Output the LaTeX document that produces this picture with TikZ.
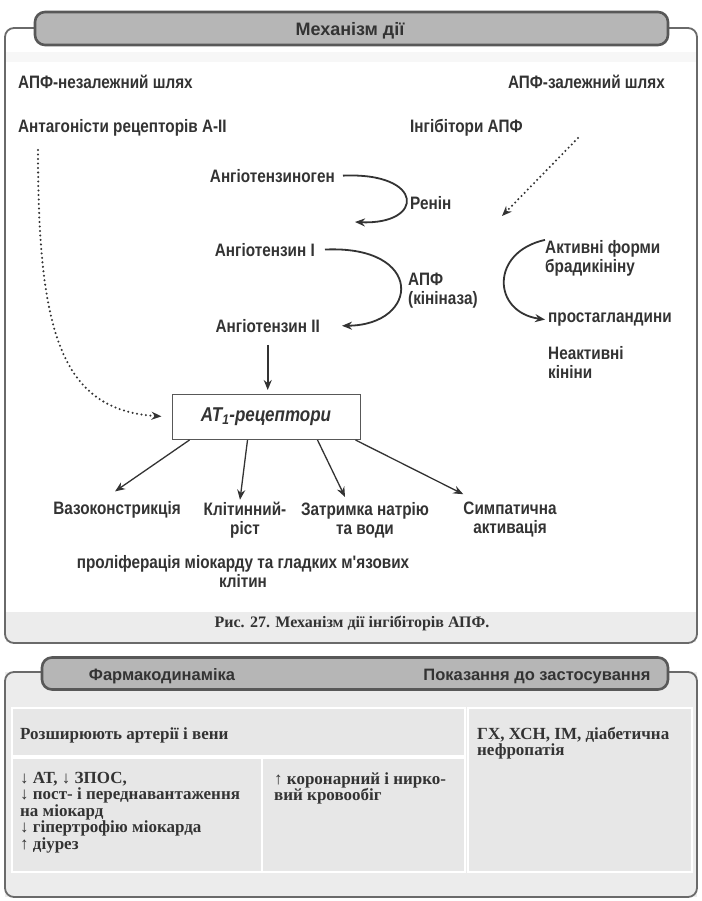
\documentclass[tikz,border=0pt]{standalone}
\usepackage{fontspec}
\setmainfont{Liberation Serif}
\newfontfamily\cond[FakeStretch=0.85]{Liberation Sans}
\newfontfamily\hdr{Liberation Sans}
\usetikzlibrary{arrows.meta,calc}
\definecolor{ink}{HTML}{333333}
\definecolor{framec}{HTML}{6a6a6a}
\definecolor{tabfill}{HTML}{b6b6b6}
\definecolor{tabedge}{HTML}{585858}
\definecolor{panelbg}{HTML}{ececec}
\definecolor{cellbg}{HTML}{e7e7e7}
\tikzset{
  lbl/.style={font=\cond\bfseries\fontsize{18}{19}\selectfont, text=ink, inner sep=0pt, anchor=west, align=left},
  lblc/.style={lbl, anchor=center, align=center},
  tabbox/.style={draw=tabedge, line width=2.6pt, fill=tabfill, rounded corners=10pt, inner sep=0pt},
  tabtxt/.style={font=\hdr\bfseries\fontsize{16.5}{18}\selectfont, text=ink, inner sep=0pt, anchor=base},
  frameline/.style={draw=framec, line width=1.8pt, rounded corners=9pt},
  flow/.style={draw=ink, line width=1.8pt, -{Stealth[length=10pt,width=8pt]}},
  thin/.style={draw=ink, line width=1.3pt, -{Stealth[length=10pt,width=8pt]}},
  dots/.style={draw=ink, line width=2.3pt, line cap=round, dash pattern=on 0pt off 4.5pt, -{Stealth[length=10pt,width=8pt]}},
  cell/.style={draw=white, line width=2.5pt, fill=cellbg, inner sep=0pt},
  celltxt/.style={font=\bfseries\fontsize{17}{16.5}\selectfont, text=ink, inner sep=0pt, anchor=north west, align=left},
  captxt/.style={font=\bfseries\fontsize{16}{18}\selectfont, text=ink, inner sep=0pt}
}
\begin{document}
\begin{tikzpicture}[x=1pt,y=-1pt]
\useasboundingbox (0,0) rectangle (701,901);
\fill[white] (0,0) rectangle (701,901);

% ---------- upper panel: mechanism ----------
\fill[white] (5,28) rectangle (697,643);
\fill[black!3] (6,52) rectangle (696,62);
\fill[panelbg] (6,612) rectangle (696,642);
\draw[frameline] (35,28) -- (5,28) -- (5,643) -- (697,643) -- (697,28) -- (668,28);
\node[tabbox, minimum width=633pt, minimum height=33pt] (tab1) at (351.5,28.5) {};
\node[tabtxt, font=\hdr\bfseries\fontsize{18}{20}\selectfont] (tab1t) at (350,36) {Механізм дії};

\node[lbl] (n1) at (18,82) {АПФ-незалежний шлях};
\node[lbl, anchor=east] (n2) at (665,82) {АПФ-залежний шлях};
\node[lbl] (n3) at (18,128) {Антагоністи рецепторів А-ІІ};
\node[lbl] (n4) at (410,128) {Інгібітори АПФ};

\node[lbl, anchor=east] (agn) at (335,176) {Ангіотензиноген};
\node[lbl, anchor=east] (an1) at (315,250) {Ангіотензин І};
\node[lbl, anchor=east] (an2) at (320,326) {Ангіотензин ІІ};
\node[lbl] (renin) at (410,203) {Ренін};
\node[lbl] (ace) at (408,291) {АПФ\\(кініназа)};

\node[lbl] (bk) at (545,258) {Активні форми\\брадикініну};
\node[lbl] (pg) at (548,320) {простагландини};
\node[lbl] (ik) at (548,362) {Неактивні\\кініни};

\node[draw=tabedge, line width=1pt, fill=white, minimum width=188pt, minimum height=45pt,
      font=\cond\bfseries\itshape\fontsize{20}{22}\selectfont, text=ink] (at1) at (266,417)
      {AT\textsubscript{1}-рецептори};

\node[lblc] (e1) at (117,510) {Вазоконстрикція};
\node[lblc] (e2) at (245,520) {Клітинний-\\ріст};
\node[lblc] (e3) at (365,520) {Затримка натрію\\та води};
\node[lblc] (e4) at (510,520) {Симпатична\\активація};
\node[lblc] (pr) at (243,572) {проліферація міокарду та гладких м'язових\\клітин};

\node[captxt] (cap1) at (352,623) {Рис. 27. Механізм дії інгібіторів АПФ.};

% cascade connectors
\coordinate (tipA) at (355,222);
\draw[flow, shorten <=8pt] (agn.east) .. controls (425,172) and (425,225) .. (tipA);
\draw[flow, shorten <=10pt, shorten >=22pt] (an1.east) .. controls (425,245) and (420,325) .. (an2.east);
\draw[flow, shorten <=12pt, shorten >=4pt] (an2.south) -- (an2.south |- at1.north);
\draw[flow, shorten >=3pt] (bk.north west) .. controls (490,252) and (492,312) .. (pg.west);

% inhibitor connectors
\coordinate (rd1) at (578,138);
\coordinate (rd2) at (502,216);
\draw[dots] (rd1) -- (rd2);
\coordinate (ld1) at (38,150);
\draw[dots, shorten >=10pt] (ld1) .. controls (38,330) and (60,410) .. (at1.west);

% effects of receptor activation
\draw[thin] ($(at1.south west)+(18,0)$) -- ($(e1.north)+(-2,-10)$);
\draw[thin] ($(at1.south west)+(76,0)$) -- ($(e2.north)+(-5,-2)$);
\draw[thin] ($(at1.south west)+(146,0)$) -- ($(e3.north)+(-20,-5)$);
\draw[thin] ($(at1.south east)+(-5,0)$) -- ($(e4.north west)+(0,-8)$);

% ---------- lower panel: pharmacodynamics ----------
\fill[panelbg] (5,672) rectangle (697,897);
\draw[frameline] (42,672) -- (5,672) -- (5,897) -- (697,897) -- (697,672) -- (668,672);
\node[tabbox, minimum width=626pt, minimum height=32pt] (tab2) at (355,673.5) {};
\node[tabtxt] (tab2a) at (162,680) {Фармакодинаміка};
\node[tabtxt] (tab2b) at (537,680) {Показання до застосування};

\node[cell, minimum width=453pt, minimum height=48pt] (c1) at (238.5,732) {};
\node[cell, minimum width=224pt, minimum height=164pt] (c3) at (580,790) {};
\node[cell, minimum width=250pt, minimum height=114pt] (c4) at (137,815) {};
\node[cell, minimum width=203pt, minimum height=114pt] (c5) at (363.5,815) {};

\node[celltxt, anchor=west] (t1) at (20,735) {Розширюють артерії і вени};
\node[celltxt] (t3) at (477,727) {ГХ, ХСН, ІМ, діабетична\\нефропатія};
\node[celltxt] (t4) at (20,772) {↓ АТ, ↓ ЗПОС,\\↓ пост- і переднавантаження\\на міокард\\↓ гіпертрофію міокарда\\↑ діурез};
\node[celltxt] (t5) at (274,772) {↑ коронарний і нирко-\\вий кровообіг};
\end{tikzpicture}
\end{document}
